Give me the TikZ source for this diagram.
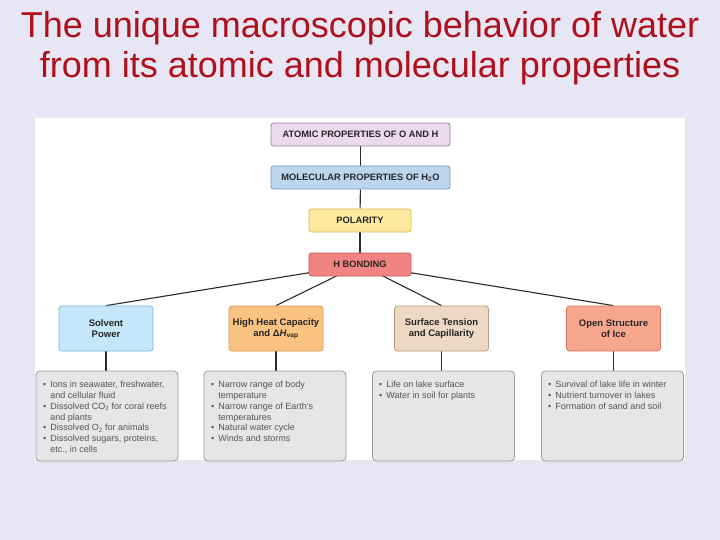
\documentclass[tikz,border=0pt]{standalone}
\usepackage{fontspec}
\setmainfont{Liberation Sans}
\usetikzlibrary{backgrounds}
\definecolor{bgc}{HTML}{E6E6F5}
\definecolor{titlec}{HTML}{B0101C}
\definecolor{f1}{HTML}{EBD9EC}\definecolor{d1}{HTML}{A07AA8}
\definecolor{f2}{HTML}{BCD6EE}\definecolor{d2}{HTML}{6D97C4}
\definecolor{f3}{HTML}{FCEB9F}\definecolor{d3}{HTML}{D7B94F}
\definecolor{f4}{HTML}{F28383}\definecolor{d4}{HTML}{C8575A}
\definecolor{fs}{HTML}{C5E7F9}\definecolor{ds}{HTML}{7FB7D6}
\definecolor{fh}{HTML}{FAC381}\definecolor{dh}{HTML}{D69A4E}
\definecolor{ft}{HTML}{EDD8C4}\definecolor{dt}{HTML}{B79E84}
\definecolor{fi}{HTML}{F8A68E}\definecolor{di}{HTML}{D6765F}
\definecolor{fg}{HTML}{E6E6E6}\definecolor{dg}{HTML}{9A9A9A}
\definecolor{txtg}{HTML}{555555}
\definecolor{linec}{HTML}{2A2A2A}
\newcommand{\bul}{\textbullet}
\tikzset{
  hbox/.style={draw, rounded corners=2.5pt, line width=0.8pt, minimum height=23pt,
    inner sep=0pt, font=\fontsize{9.3}{11}\selectfont\bfseries, text=black!85},
  pbox/.style={draw, rounded corners=3pt, line width=0.8pt, minimum width=94pt, minimum height=45pt,
    inner sep=0pt, align=center, font=\fontsize{9.5}{11.5}\selectfont\bfseries, text=black!85},
  gbox/.style={draw=dg, fill=fg, rounded corners=4pt, line width=0.8pt, minimum width=142pt, minimum height=90pt, inner sep=0pt},
  glist/.style={anchor=north west, inner sep=0pt, text=txtg, font=\fontsize{9}{10.8}\selectfont},
  conn/.style={draw=linec, line width=1.1pt},
  ttl/.style={anchor=base, text=titlec, font=\fontsize{36}{40}\selectfont, inner sep=0pt}
}
\begin{document}
\begin{tikzpicture}[x=1pt,y=-1pt]
\useasboundingbox (0,0) rectangle (720,540);
\begin{scope}[on background layer]
\fill[bgc] (0,0) rectangle (720,540);
\fill[white] (35,118) rectangle (685,460);
\end{scope}
\node[ttl] (t1) at (360,38) {The unique macroscopic behavior of water};
\node[ttl] (t2) at (360,78) {from its atomic and molecular properties};

\node[hbox, fill=f1, draw=d1, minimum width=179pt] (a) at (360.5,134.5) {ATOMIC PROPERTIES OF O AND H};
\node[hbox, fill=f2, draw=d2, minimum width=179pt] (m) at (360.5,177.5) {MOLECULAR PROPERTIES OF H\textsubscript{2}O};
\node[hbox, fill=f3, draw=d3, minimum width=102pt] (p) at (360,220.5) {POLARITY};
\node[hbox, fill=f4, draw=d4, minimum width=102pt] (h) at (360,264.5) {H BONDING};

\node[pbox, fill=fs, draw=ds] (s) at (106,328.5) {Solvent\\Power};
\node[pbox, fill=fh, draw=dh] (c) at (276,328.5) {High Heat Capacity\\and Δ\textit{H}\textsubscript{vap}};
\node[pbox, fill=ft, draw=dt] (st) at (441.5,328.5) {Surface Tension\\and Capillarity};
\node[pbox, fill=fi, draw=di] (ic) at (613.5,328.5) {Open Structure\\of Ice};

\node[gbox] (g1) at (107,416) {};
\node[gbox] (g2) at (275,416) {};
\node[gbox] (g3) at (443.5,416) {};
\node[gbox] (g4) at (612.5,416) {};

\node[glist] (l1) at (43,380) {\begin{tabular}{@{}l@{\hspace{4pt}}l@{}}
\bul & Ions in seawater, freshwater,\\
 & and cellular fluid\\
\bul & Dissolved CO\textsubscript{2} for coral reefs\\
 & and plants\\
\bul & Dissolved O\textsubscript{2} for animals\\
\bul & Dissolved sugars, proteins,\\
 & etc., in cells
\end{tabular}};
\node[glist] (l2) at (211,380) {\begin{tabular}{@{}l@{\hspace{4pt}}l@{}}
\bul & Narrow range of body\\
 & temperature\\
\bul & Narrow range of Earth's\\
 & temperatures\\
\bul & Natural water cycle\\
\bul & Winds and storms
\end{tabular}};
\node[glist] (l3) at (379,380) {\begin{tabular}{@{}l@{\hspace{4pt}}l@{}}
\bul & Life on lake surface\\
\bul & Water in soil for plants
\end{tabular}};
\node[glist] (l4) at (548,380) {\begin{tabular}{@{}l@{\hspace{4pt}}l@{}}
\bul & Survival of lake life in winter\\
\bul & Nutrient turnover in lakes\\
\bul & Formation of sand and soil
\end{tabular}};

\begin{scope}[on background layer]
\draw[conn] (a) -- (m);
\draw[conn] (m) -- (p);
\draw[conn] (p) -- (h);
\draw[conn] (h.center) -- (s.north);
\draw[conn] (h.center) -- (c.north);
\draw[conn] (h.center) -- (st.north);
\draw[conn] (h.center) -- (ic.north);
\draw[conn] (s.south) -- (s.south |- g1.north);
\draw[conn] (c.south) -- (c.south |- g2.north);
\draw[conn] (st.south) -- (st.south |- g3.north);
\draw[conn] (ic.south) -- (ic.south |- g4.north);
\end{scope}
\end{tikzpicture}
\end{document}
